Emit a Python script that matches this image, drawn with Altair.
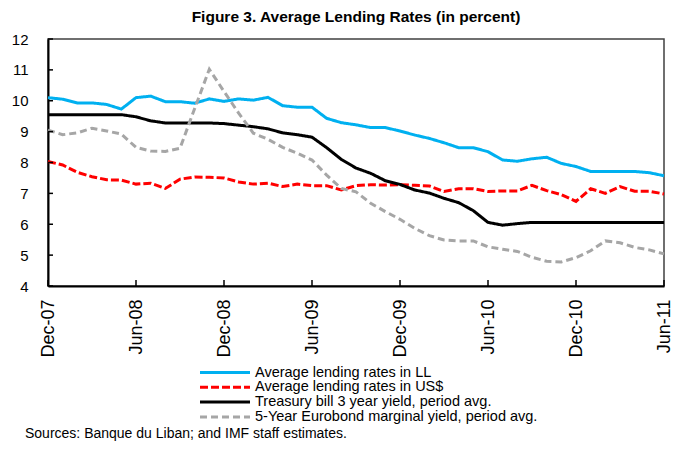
import altair as alt
import pandas as pd

# ---------------- data ----------------
series_names = [
    "Average lending rates in LL",
    "Average lending rates in US$",
    "Treasury bill 3 year yield, period avg.",
    "5-Year Eurobond marginal yield, period avg.",
]
series_colors = ["#00B0F0", "#FF0000", "#000000", "#A6A6A6"]
series_dash = [[1, 0], [8, 3], [1, 0], [7, 4]]

# monthly, Dec-07 ... Jun-11 (43 months)
ll = [10.10, 10.05, 9.93, 9.93, 9.88, 9.73, 10.10, 10.15, 9.97, 9.97, 9.92,
      10.06, 9.98, 10.06, 10.02, 10.11, 9.84, 9.79, 9.79, 9.43, 9.29, 9.22,
      9.13, 9.13, 9.02, 8.89, 8.78, 8.64, 8.48, 8.48, 8.35, 8.08, 8.04,
      8.12, 8.17, 7.97, 7.87, 7.71, 7.71, 7.71, 7.71, 7.67, 7.57]
usd = [8.03, 7.92, 7.68, 7.54, 7.44, 7.43, 7.30, 7.33, 7.16, 7.46, 7.53,
       7.52, 7.50, 7.37, 7.30, 7.33, 7.22, 7.30, 7.25, 7.25, 7.11, 7.25,
       7.28, 7.27, 7.28, 7.26, 7.24, 7.06, 7.15, 7.15, 7.06, 7.08, 7.08,
       7.26, 7.09, 6.96, 6.74, 7.15, 7.00, 7.22, 7.07, 7.07, 6.98]
tbill = [9.55, 9.55, 9.55, 9.55, 9.55, 9.55, 9.48, 9.35, 9.28, 9.28, 9.28,
         9.28, 9.26, 9.21, 9.16, 9.09, 8.96, 8.90, 8.82, 8.48, 8.10, 7.82,
         7.65, 7.41, 7.29, 7.11, 7.01, 6.84, 6.70, 6.44, 6.06, 5.97, 6.02,
         6.06, 6.06, 6.06, 6.06, 6.06, 6.06, 6.06, 6.06, 6.06, 6.06]
eurobond = [9.05, 8.90, 8.96, 9.11, 9.02, 8.92, 8.49, 8.37, 8.36, 8.46, 9.75,
            11.02, 10.30, 9.60, 8.95, 8.75, 8.49, 8.30, 8.08, 7.59, 7.16, 7.05,
            6.68, 6.41, 6.16, 5.87, 5.63, 5.49, 5.46, 5.46, 5.27, 5.19, 5.12,
            4.93, 4.80, 4.78, 4.92, 5.14, 5.46, 5.40, 5.25, 5.17, 5.04]

tick_months = [0, 6, 12, 18, 24, 30, 36, 42]
tick_labels = ["Dec-07", "Jun-08", "Dec-08", "Jun-09", "Dec-09", "Jun-10", "Dec-10", "Jun-11"]
y_ticks = [4, 5, 6, 7, 8, 9, 10, 11, 12]

title_text = "Figure 3. Average Lending Rates (in percent)"
footnote = "Sources: Banque du Liban; and IMF staff estimates."

# ---------------- build ----------------
rows = []
for name, vals in zip(series_names, [ll, usd, tbill, eurobond]):
    for i, v in enumerate(vals):
        rows.append({"m": i, "series": name, "v": v})
df = pd.DataFrame(rows)

W, H = 616, 247
FONT = "Liberation Sans"

xscale = alt.Scale(domain=[0, 42], nice=False, zero=False)
yscale = alt.Scale(domain=[4, 12], nice=False, zero=False)
label_expr = "[" + ",".join(f"'{t}'" for t in tick_labels) + "][round(datum.value/6)]"

x_axis = alt.Axis(values=tick_months, labelExpr=label_expr, labelAngle=-90,
                  labelFontSize=18, labelFont=FONT, labelColor="black",
                  labelPadding=13, labelOverlap=False, ticks=False,
                  domainColor="black", domainWidth=2, grid=False, title=None)
y_axis = alt.Axis(values=y_ticks, labelFontSize=15, labelFont=FONT,
                  labelColor="black", labelPadding=20, labelOverlap=False,
                  ticks=False, domainColor="black", domainWidth=2,
                  grid=False, title=None)

lines = alt.Chart(df).mark_line(strokeWidth=3, strokeCap="butt").encode(
    x=alt.X("m:Q", scale=xscale, axis=x_axis),
    y=alt.Y("v:Q", scale=yscale, axis=y_axis),
    color=alt.Color("series:N", scale=alt.Scale(domain=series_names, range=series_colors), legend=None),
    strokeDash=alt.StrokeDash("series:N", scale=alt.Scale(domain=series_names, range=series_dash), legend=None),
)

yt = alt.Chart(pd.DataFrame({"v": y_ticks})).mark_rule(color="black", strokeWidth=1.5).encode(
    y=alt.Y("v:Q", scale=yscale, axis=y_axis), x=alt.value(0), x2=alt.value(5))
xt = alt.Chart(pd.DataFrame({"m": tick_months})).mark_rule(color="black", strokeWidth=1.5).encode(
    x=alt.X("m:Q", scale=xscale, axis=x_axis), y=alt.value(H), y2=alt.value(H - 6))

layers = [lines, yt, xt]
for k, name in enumerate(series_names):
    ly = 333.5 + 14.8 * k
    ldf = pd.DataFrame({"s": [name]})
    layers.append(alt.Chart(ldf).mark_rule(color=series_colors[k], strokeDash=series_dash[k],
                                           strokeWidth=3).encode(
        x=alt.value(152), x2=alt.value(202), y=alt.value(ly)))
    layers.append(alt.Chart(ldf).mark_text(align="left", baseline="middle", font=FONT,
                                           fontSize=14.5, color="black").encode(
        text="s:N", x=alt.value(207), y=alt.value(ly)))

layers.append(alt.Chart(pd.DataFrame({"t": [footnote]})).mark_text(
    align="left", baseline="middle", font=FONT, fontSize=14, color="black").encode(
    text="t:N", x=alt.value(-23), y=alt.value(395)))

chart = alt.layer(*layers).properties(
    width=W, height=H,
    title=alt.Title(title_text, font=FONT, fontSize=15.5, fontWeight="bold",
                    anchor="middle", offset=7, color="black"),
    autosize=alt.AutoSizeParams(type="none"),
    padding={"left": 40, "top": 31, "right": 9, "bottom": 156},
).configure_view(stroke="#404040", strokeWidth=1.5)

chart.save("out.html", embed_options={"renderer": "svg", "actions": False})
